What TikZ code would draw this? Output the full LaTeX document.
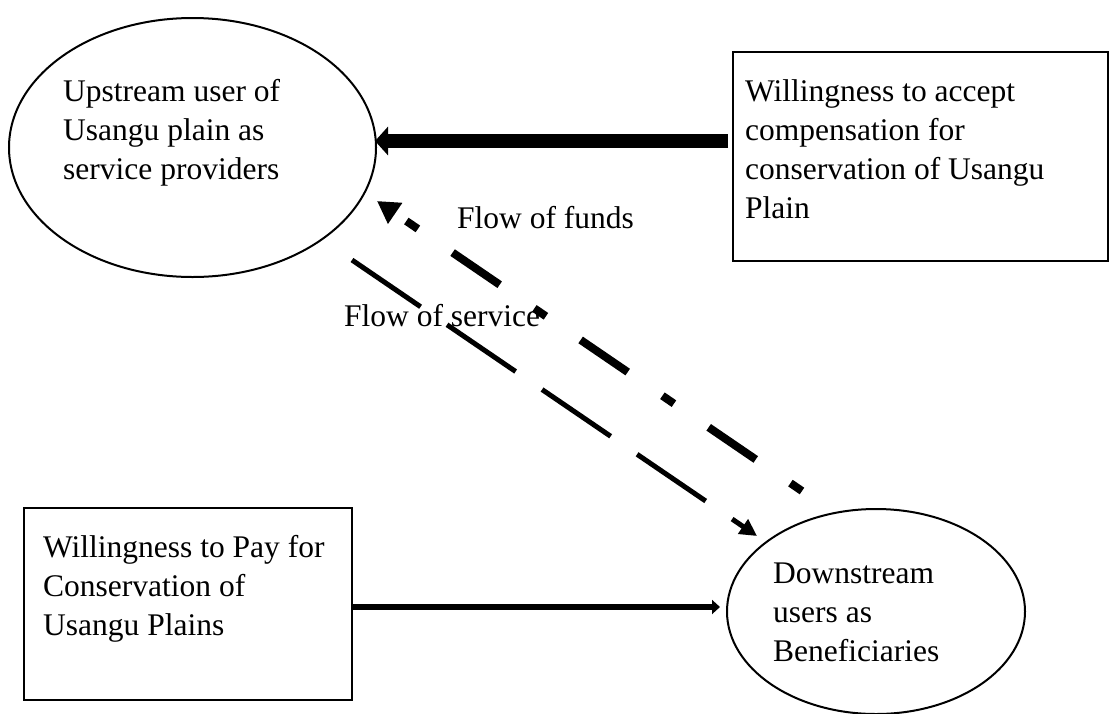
\documentclass[tikz,border=0pt]{standalone}
\usepackage{fontspec}
\setmainfont{Liberation Serif}
\usetikzlibrary{arrows.meta,shapes.geometric}
\begin{document}
\begin{tikzpicture}[x=1pt,y=-1pt,
  lbl/.style={font=\fontsize{31.5}{39.2}\selectfont, align=left, inner sep=0pt, anchor=base west},
  oval/.style={draw, ellipse, line width=2pt, inner sep=0pt},
  box/.style={draw, rectangle, line width=2pt, inner sep=0pt}]
\useasboundingbox (0,0) rectangle (1111,713);

% shapes
\node[oval, minimum width=367pt, minimum height=259pt] (up) at (192.5,147.5) {};
\node[oval, minimum width=298pt, minimum height=205pt] (down) at (876,611.5) {};
\node[box, minimum width=375pt, minimum height=209pt] (wta) at (920.5,156.5) {};
\node[box, minimum width=328pt, minimum height=192pt] (wtp) at (188,604) {};

% texts (base anchor = baseline of the last line)
\node[lbl] (tup) at (63,179.4) {Upstream user of\\Usangu plain as\\service providers};
\node[lbl] (twta) at (745,218.6) {Willingness to accept\\compensation for\\conservation of Usangu\\Plain};
\node[lbl] (twtp) at (43,635.4) {Willingness to Pay for\\Conservation of\\Usangu Plains};
\node[lbl] (tdown) at (773,661.4) {Downstream\\users as\\Beneficiaries};
\node[lbl] (lfunds) at (457,228) {Flow of funds};
\node[lbl] (lservice) at (344,326) {Flow of service};

% connector end points
\coordinate (a1s) at (728,141);
\coordinate (a1e) at (375,141);
\coordinate (fs) at (802,491);
\coordinate (fe) at (377,201);
\coordinate (ss) at (352,260);
\coordinate (se) at (757,536);
\coordinate (bs) at (352,607);
\coordinate (be) at (720,607);

% connectors
\draw[line width=14pt, -{Triangle[length=13pt,width=28pt]}] (a1s) -- (a1e);
\draw[line width=8pt, dash pattern=on 14pt off 42pt on 57pt off 42pt,
      -{Triangle[length=22pt,width=24pt]}] (fs) -- (fe);
\draw[line width=5pt, dash pattern=on 83pt off 32pt,
      -{Triangle[length=17pt,width=17pt]}] (ss) -- (se);
\draw[line width=6.5pt, -{Triangle[length=8pt,width=14pt]}] (bs) -- (be);
\end{tikzpicture}
\end{document}
